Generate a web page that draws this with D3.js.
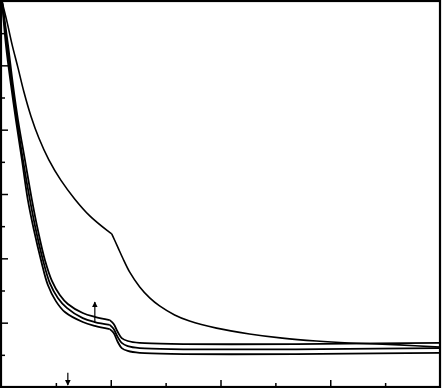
<!DOCTYPE html>
<html>
<head>
<meta charset="utf-8">
<script src="https://cdn.jsdelivr.net/npm/d3@7"></script>
<style>
body { margin: 0; background: #fff; }
svg { display: block; }
</style>
</head>
<body>
<div id="chart"></div>
<script>
// curves, [x, y]
var curveA = [[0.01,11.97],[0.055,11.35],[0.1,10.66],[0.155,9.92],[0.209,9.17],[0.273,8.42],[0.345,7.74],[0.436,7.06],[0.545,6.43],[0.673,5.84],[0.809,5.32],[0.973,4.85],[1.009,4.76],[1.064,4.35],[1.109,4.01],[1.173,3.57],[1.264,3.11],[1.355,2.77],[1.445,2.52],[1.582,2.24],[1.718,2.05],[1.964,1.83],[2.264,1.65],[2.564,1.52],[2.873,1.43],[3.173,1.37],[3.627,1.31],[4,1.24]];
var curveB = [[0.01,11.97],[0.064,10.63],[0.109,9.39],[0.155,8.30],[0.218,7.06],[0.282,5.81],[0.336,4.88],[0.4,3.95],[0.464,3.30],[0.536,2.86],[0.609,2.58],[0.745,2.30],[0.855,2.18],[0.991,2.08],[1.027,1.96],[1.064,1.71],[1.1,1.52],[1.155,1.43],[1.264,1.37],[4,1.37]];
var curveC = [[0.01,11.97],[0.055,10.63],[0.1,9.39],[0.145,8.30],[0.2,7.06],[0.264,5.81],[0.318,4.88],[0.382,3.95],[0.445,3.23],[0.518,2.77],[0.6,2.46],[0.745,2.14],[0.855,2.02],[0.991,1.93],[1.027,1.80],[1.064,1.55],[1.1,1.37],[1.155,1.27],[1.264,1.21],[4,1.21]];
var curveD = [[0.01,11.97],[0.045,10.63],[0.091,9.39],[0.136,8.30],[0.191,7.06],[0.245,5.81],[0.3,4.88],[0.364,3.95],[0.427,3.17],[0.5,2.67],[0.582,2.33],[0.745,2.02],[0.855,1.90],[0.991,1.80],[1.027,1.68],[1.064,1.40],[1.1,1.21],[1.155,1.12],[1.264,1.06],[4,1.06]];
// x where each curve has its corner
var kinkA = 1.009, kinkLow = 0.991;

var xMajor = [1, 2, 3];
var xMinor = [0.5, 1.5, 2.5, 3.5];
var yMajor = [2, 4, 6, 8, 10];
var yMinor = [1, 3, 5, 7, 9, 11];

// arrows: [x, yFrom, yTo]
var upArrow = [0.855, 1.99, 2.64];
var downArrow = [0.609, 0.44, 0.06];

var width = 442, height = 388;
var x = d3.scaleLinear().domain([0, 4]).range([1, 440]);
var y = d3.scaleLinear().domain([0, 12]).range([387, 1]);

var svg = d3.select("#chart").append("svg")
	.attr("width", width)
	.attr("height", height);

svg.append("defs").append("marker")
	.attr("id", "head")
	.attr("viewBox", "0 0 10 10")
	.attr("refX", 9).attr("refY", 5)
	.attr("markerWidth", 6).attr("markerHeight", 6)
	.attr("markerUnits", "userSpaceOnUse")
	.attr("orient", "auto")
	.append("path")
	.attr("d", "M0,0 L10,5 L0,10 Z")
	.attr("fill", "#000");

//ticks
function tickAxis(axis, vals, len, tr) {
	var g = svg.append("g")
		.attr("transform", tr)
		.call(axis.tickValues(vals).tickSize(-len).tickFormat(""));
	g.select(".domain").remove();
	g.selectAll("line").attr("stroke", "#000").attr("stroke-width", 1.5);
}
tickAxis(d3.axisBottom(x), xMajor, 7, "translate(0,387)");
tickAxis(d3.axisBottom(x), xMinor, 4, "translate(0,387)");
tickAxis(d3.axisLeft(y), yMajor, 7, "translate(1,0)");
tickAxis(d3.axisLeft(y), yMinor, 4, "translate(1,0)");

var line = d3.line()
	.x(function(d){return x(d[0]);})
	.y(function(d){return y(d[1]);})
	.curve(d3.curveCatmullRom.alpha(0.5));

// draw each curve in two pieces so the corner stays sharp
function drawCurve(c, k, w) {
	var a = c.filter(function(d){return d[0] <= k;}),
		b = c.filter(function(d){return d[0] >= k;});
	[a, b].forEach(function(part){
		svg.append("path").datum(part)
			.attr("d", line).attr("fill", "none")
			.attr("stroke", "#000").attr("stroke-width", w);
	});
}
drawCurve(curveA, kinkA, 1.6);
drawCurve(curveB, kinkLow, 1.8);
drawCurve(curveC, kinkLow, 1.8);
drawCurve(curveD, kinkLow, 1.8);

[upArrow, downArrow].forEach(function(a){
	svg.append("line")
		.attr("x1", x(a[0])).attr("x2", x(a[0]))
		.attr("y1", y(a[1])).attr("y2", y(a[2]))
		.attr("stroke", "#000").attr("stroke-width", 1.2)
		.attr("marker-end", "url(#head)");
});

// frame
svg.append("rect")
	.attr("x", 1).attr("y", 1)
	.attr("width", 439).attr("height", 386)
	.attr("fill", "none")
	.attr("stroke", "#000")
	.attr("stroke-width", 2.2);
</script>
</body>
</html>
